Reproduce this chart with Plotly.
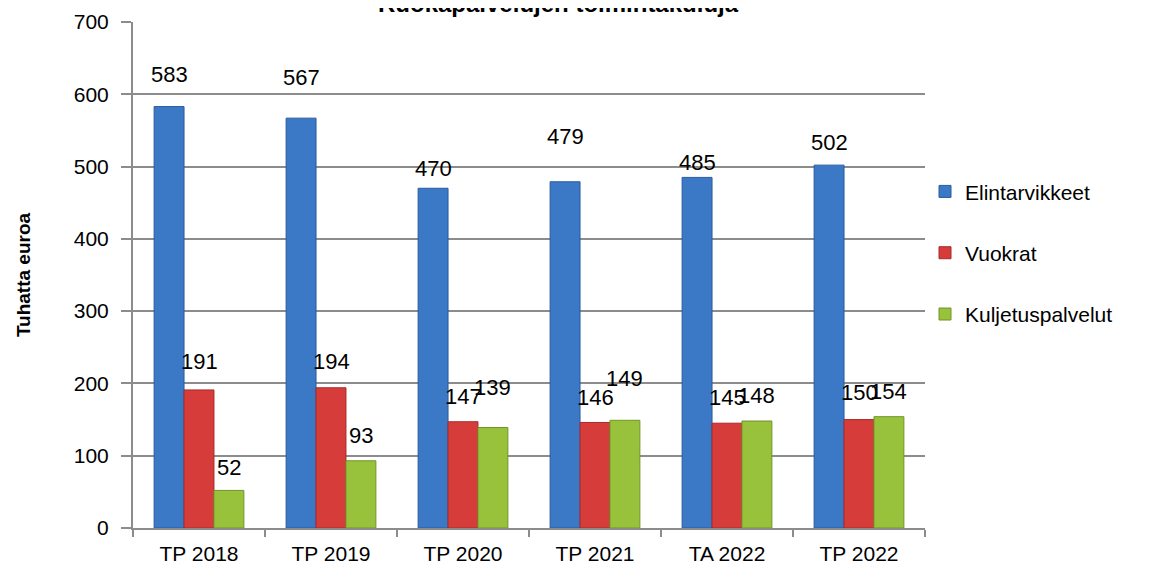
import plotly.graph_objects as go

categories = ["TP 2018", "TP 2019", "TP 2020", "TP 2021", "TA 2022", "TP 2022"]
elintarvikkeet = [583, 567, 470, 479, 485, 502]
vuokrat = [191, 194, 147, 146, 145, 150]
kuljetuspalvelut = [52, 93, 139, 149, 148, 154]
series_names = ["Elintarvikkeet", "Vuokrat", "Kuljetuspalvelut"]
title_text = "Ruokapalvelujen toimintakuluja"
y_title = "Tuhatta euroa"

colors = ["#3b78c6", "#d63d3a", "#98c23c"]
edge = ["#2a5c9e", "#a82a28", "#72942a"]
# vertical offsets (px) of the value labels above the bar tops, as placed in the original
label_shift = [
    [32, 41, 20, 45, 15, 23],
    [28, 26, 25, 25, 26, 27],
    [23, 25, 40, 42, 26, 25],
]

FONT = "Liberation Sans, Arial, sans-serif"
W, H = 1163, 574
ML, MR, MT, MB = 125, 246, 14, 54

series = [elintarvikkeet, vuokrat, kuljetuspalvelut]
fig = go.Figure()
for name, vals, c, e in zip(series_names, series, colors, edge):
    fig.add_trace(go.Bar(
        x=categories, y=vals, name=name,
        marker=dict(color=c, line=dict(color=e, width=1)),
        legendgroup=name,
    ))

bargap = 0.32
plot_w = W - ML - MR
plot_h = H - MT - MB
cat_px = plot_w / len(categories)
bar_px = cat_px * (1 - bargap) / 3
annotations = []
for j, vals in enumerate(series):
    for i, v in enumerate(vals):
        annotations.append(dict(
            x=categories[i], y=v, xref="x", yref="y",
            text=str(v), showarrow=False,
            xshift=(j - 1) * bar_px, yshift=label_shift[j][i],
            yanchor="middle",
            font=dict(family=FONT, size=22, color="#000"),
        ))

annotations.append(dict(
    text="<b>" + title_text + "</b>", xref="paper", yref="paper",
    x=(558 - 8 - ML) / plot_w, y=1 + (MT + 4) / plot_h,
    xanchor="center", yanchor="middle", showarrow=False,
    font=dict(family=FONT, size=24, color="#000"),
))

fig.update_layout(
    width=W, height=H,
    margin=dict(l=ML, r=MR, t=MT, b=MB),
    paper_bgcolor="white", plot_bgcolor="white",
    barmode="group", bargap=bargap, bargroupgap=0,
    font=dict(family=FONT, size=20, color="#000"),
    legend=dict(x=1.0, xanchor="left", y=0.705, yanchor="top",
                font=dict(size=21), tracegroupgap=31, traceorder="grouped",
                itemwidth=30, bgcolor="rgba(0,0,0,0)"),
    annotations=annotations,
    xaxis=dict(showline=True, linecolor="#8c8c8c", linewidth=2, automargin=False,
               ticks="outside", tickson="boundaries", ticklen=7, tickcolor="#8c8c8c", tickwidth=2,
               ticklabelstandoff=6,
               tickfont=dict(size=21)),
    yaxis=dict(range=[0, 700], dtick=100, showline=True, linecolor="#8c8c8c", linewidth=2,
               showgrid=True, gridcolor="#8c8c8c", gridwidth=2, automargin=False,
               ticks="outside", ticklen=10, tickcolor="#8c8c8c", tickwidth=2,
               ticklabelstandoff=8,
               tickfont=dict(size=21), zeroline=False,
               title=dict(text="<b>" + y_title + "</b>", font=dict(size=19), standoff=38)),
)

fig.write_html("out.html")
